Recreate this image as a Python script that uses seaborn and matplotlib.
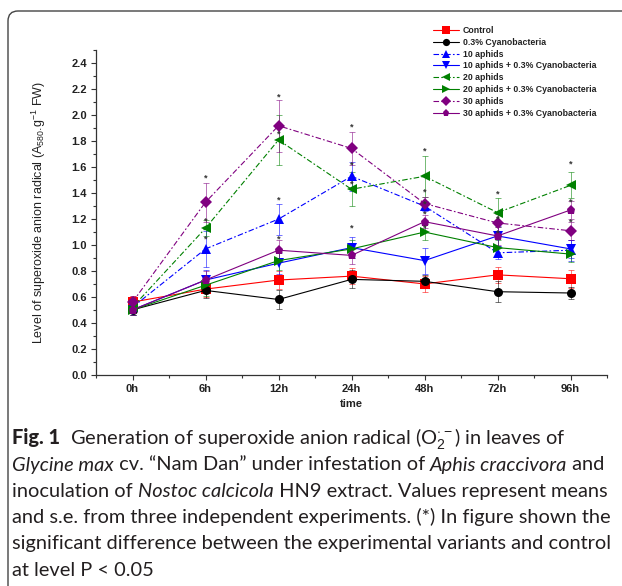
import matplotlib
matplotlib.use("Agg")
import matplotlib.pyplot as plt
from matplotlib.patches import FancyBboxPatch
from matplotlib.ticker import MultipleLocator
import numpy as np
import pandas as pd
import seaborn as sns

sns.set_theme(style="ticks")
plt.rcParams["font.family"] = ["Liberation Sans", "DejaVu Sans"]
plt.rcParams["mathtext.fontset"] = "custom"
plt.rcParams["mathtext.rm"] = "Liberation Sans"
plt.rcParams["mathtext.it"] = "Liberation Sans:italic"
plt.rcParams["mathtext.bf"] = "Liberation Sans:bold"

# --- data ---
times = ["0h", "6h", "12h", "24h", "48h", "72h", "96h"]
groups = ["Control", "0.3% Cyanobacteria", "10 aphids", "10 aphids + 0.3% Cyanobacteria",
          "20 aphids", "20 aphids + 0.3% Cyanobacteria", "30 aphids",
          "30 aphids + 0.3% Cyanobacteria"]

control  = [0.56, 0.66, 0.73, 0.76, 0.70, 0.77, 0.74]
cyano    = [0.50, 0.65, 0.58, 0.735, 0.72, 0.64, 0.63]
aph10    = [0.52, 0.97, 1.20, 1.53, 1.30, 0.94, 0.96]
aph10_c  = [0.50, 0.73, 0.86, 0.98, 0.88, 1.07, 0.97]
aph20    = [0.52, 1.13, 1.81, 1.43, 1.53, 1.25, 1.46]
aph20_c  = [0.50, 0.69, 0.88, 0.97, 1.10, 0.98, 0.93]
aph30    = [0.56, 1.33, 1.92, 1.745, 1.32, 1.17, 1.11]
aph30_c  = [0.50, 0.73, 0.96, 0.92, 1.18, 1.07, 1.27]

se_control = [0.05, 0.06, 0.07, 0.06, 0.06, 0.06, 0.07]
se_cyano   = [0.04, 0.06, 0.07, 0.07, 0.05, 0.08, 0.05]
se_aph10   = [0.04, 0.14, 0.12, 0.11, 0.04, 0.05, 0.08]
se_aph10_c = [0.04, 0.08, 0.08, 0.08, 0.10, 0.08, 0.07]
se_aph20   = [0.04, 0.06, 0.19, 0.13, 0.16, 0.11, 0.10]
se_aph20_c = [0.04, 0.08, 0.07, 0.07, 0.06, 0.06, 0.06]
se_aph30   = [0.05, 0.15, 0.20, 0.13, 0.05, 0.07, 0.07]
se_aph30_c = [0.04, 0.07, 0.08, 0.07, 0.05, 0.07, 0.07]

# asterisks (significant vs control), height of the mark; None = no mark
nan = None
star_control = [nan] * 7
star_cyano   = [nan] * 7
star_aph10   = [nan, 1.06, 1.36, 1.63, 1.335, nan, nan]
star_aph10_c = [nan] * 7
star_aph20   = [nan, 1.20, 1.87, 1.49, 1.74, 1.41, 1.64]
star_aph20_c = [nan, nan, nan, 1.15, 1.15, nan, nan]
star_aph30   = [nan, 1.53, 2.16, 1.925, 1.425, 1.22, 1.19]
star_aph30_c = [nan, nan, 1.06, nan, 1.255, 1.11, 1.35]

means = [control, cyano, aph10, aph10_c, aph20, aph20_c, aph30, aph30_c]
errs = [se_control, se_cyano, se_aph10, se_aph10_c, se_aph20, se_aph20_c, se_aph30, se_aph30_c]
stars = [star_control, star_cyano, star_aph10, star_aph10_c, star_aph20, star_aph20_c,
         star_aph30, star_aph30_c]

colors = ["#ff0000", "#000000", "#0000ff", "#0000ff", "#008000", "#008000", "#800080", "#800080"]
markers = ["s", "o", "^", "v", "<", ">", "D", "p"]
dashdot = (5, 2, 1.5, 2)
dashes = ["", "", dashdot, "", dashdot, "", dashdot, ""]

rows = []
for g, vals in zip(groups, means):
    for i, v in enumerate(vals):
        rows.append({"time": i, "value": v, "group": g})
df = pd.DataFrame(rows)

fig = plt.figure(figsize=(6.22, 5.86), dpi=100)
ax = fig.add_axes([96 / 622, 1 - 374.7 / 586, 511 / 622, (374.7 - 50.5) / 586])

# error bars first so lines sit on top
for vals, e, c in zip(means, errs, colors):
    ax.errorbar(range(len(times)), vals, yerr=e, fmt="none", ecolor=c,
                elinewidth=0.7, capsize=2.5, capthick=0.7, alpha=0.55, zorder=1)

sns.lineplot(data=df, x="time", y="value", hue="group", style="group",
             hue_order=groups, style_order=groups,
             palette=dict(zip(groups, colors)),
             markers=dict(zip(groups, markers)),
             dashes=dict(zip(groups, dashes)),
             markersize=6.5, markeredgewidth=0, linewidth=0.8,
             ax=ax, zorder=3)

# the asterisk glyph sits above the baseline, so pull it down to centre it
for st in stars:
    for i, y in enumerate(st):
        if y is not None:
            ax.annotate("*", xy=(i, y), xytext=(0, -3.3), textcoords="offset points",
                        ha="center", va="baseline", fontsize=6.5, fontweight="bold",
                        color="#333333", zorder=4)

ax.set_xlim(-0.5, 6.5)
ax.set_ylim(0, 2.5)
ax.set_xticks(range(len(times)))
ax.set_xticklabels(times)
ax.xaxis.set_minor_locator(MultipleLocator(0.5))
ax.yaxis.set_minor_locator(MultipleLocator(0.1))
ax.set_yticks(np.arange(0, 2.41, 0.2))
ax.set_yticklabels([f"{t:.1f}" for t in np.arange(0, 2.41, 0.2)])
ax.tick_params(axis="both", which="major", length=3.5, width=0.8, labelsize=8,
               color="#333333", pad=3)
ax.tick_params(axis="both", which="minor", length=2, width=0.8, color="#333333")
for lab in ax.get_xticklabels() + ax.get_yticklabels():
    lab.set_fontweight("bold")
    lab.set_color("#222222")
sns.despine(ax=ax)
for sp in ["left", "bottom"]:
    ax.spines[sp].set_linewidth(0.9)
    ax.spines[sp].set_color("#333333")

ax.set_xlabel("time", fontsize=8, fontweight="bold", color="#222222", labelpad=4)
ax.set_ylabel(r"Level of superoxide anion radical (A$_{580}$.g$^{-1}$ FW)",
              fontsize=9, color="#222222", labelpad=17)

sns.move_legend(ax, "upper left", bbox_to_anchor=(433 / 622, 1 - 26 / 586),
                bbox_transform=fig.transFigure, frameon=False, title=None,
                fontsize=6.3, labelspacing=0.32, handlelength=3.0,
                handletextpad=0.4, borderpad=0, borderaxespad=0, markerscale=0.8)
for t in ax.get_legend().get_texts():
    t.set_fontweight("bold")
    t.set_color("#222222")

# rounded frame around the figure panel (cropped on right and bottom)
frame = FancyBboxPatch((0.08, -0.1), 6.5, 5.86 - 0.11 + 0.1,
                       boxstyle="round,pad=0,rounding_size=0.1",
                       transform=fig.dpi_scale_trans, fill=False,
                       edgecolor="#444444", linewidth=1.0)
fig.patches.append(frame)

# caption
cap_font = "Lato"
cap_size = 14.4
cap_color = "#231f20"
caption = [
    [("Fig. 1", "normal", "black"), ("  Generation of superoxide anion radical (O$_2^{\\cdot-}$) in leaves of", "normal", "normal")],
    [("Glycine max", "italic", "normal"), (" cv. \u201cNam Dan\u201d under infestation of ", "normal", "normal"),
     ("Aphis craccivora", "italic", "normal"), (" and", "normal", "normal")],
    [("inoculation of ", "normal", "normal"), ("Nostoc calcicola", "italic", "normal"),
     (" HN9 extract. Values represent means", "normal", "normal")],
    [("and s.e. from three independent experiments. (*) In figure shown the", "normal", "normal")],
    [("significant difference between the experimental variants and control", "normal", "normal")],
    [("at level P < 0.05", "normal", "normal")],
]
baselines = [444, 470.5, 497, 523, 549.5, 576]

renderer = fig.canvas.get_renderer()


def _width(s, style, weight):
    kw = dict(fontsize=cap_size, family=cap_font, style=style, weight=weight)
    a = fig.text(0, 0, "x" + s + "x", **kw)
    b = fig.text(0, 0, "xx", **kw)
    w = a.get_window_extent(renderer).width - b.get_window_extent(renderer).width
    a.remove()
    b.remove()
    return w


for line, yb in zip(caption, baselines):
    x = 12
    for s, style, weight in line:
        fig.text(x / 622, 1 - yb / 586, s, fontsize=cap_size, family=cap_font,
                 style=style, weight=weight, color=cap_color, va="baseline", ha="left")
        x += _width(s, style, weight)

fig.savefig("out.png", dpi=100)
